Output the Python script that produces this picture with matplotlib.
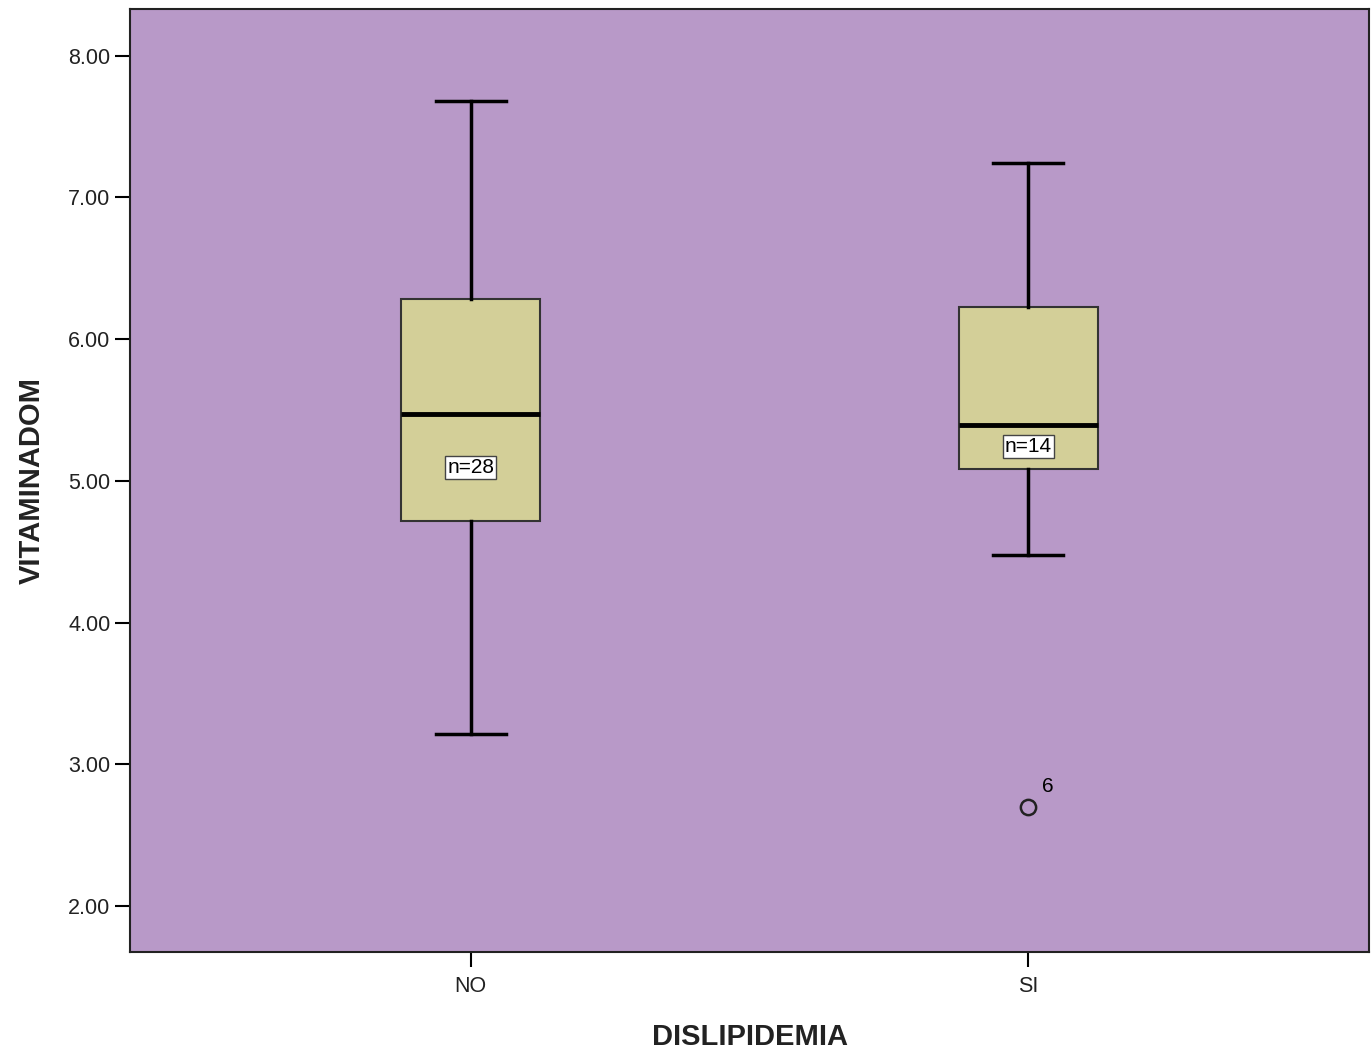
import matplotlib
matplotlib.use('Agg')
import matplotlib.pyplot as plt

# Datos
categorias = ['NO', 'SI']
n_casos = [28, 14]
whisker_bajo = [3.21, 4.48]
q1 = [4.72, 5.085]
mediana = [5.47, 5.395]
q3 = [6.28, 6.23]
whisker_alto = [7.68, 7.245]
atipicos = [[], [2.70]]
etiquetas_atipicos = [[], ['6']]

plt.rcParams['font.family'] = ['Liberation Sans', 'DejaVu Sans']

fig = plt.figure(figsize=(13.71, 10.53), dpi=100)
ax = fig.add_axes([130/1371, 1 - 952/1053, (1369-130)/1371, (952-9)/1053])
ax.set_facecolor('#b899c8')

stats = []
for i in range(len(categorias)):
    stats.append({'label': categorias[i], 'whislo': whisker_bajo[i], 'q1': q1[i],
                  'med': mediana[i], 'q3': q3[i], 'whishi': whisker_alto[i],
                  'fliers': atipicos[i]})

pos = list(range(len(categorias)))
ax.bxp(stats, positions=pos, widths=0.25, patch_artist=True, showfliers=True,
       boxprops=dict(facecolor='#d3cf98', edgecolor='#333333', linewidth=1.5),
       medianprops=dict(color='black', linewidth=3.5),
       whiskerprops=dict(color='black', linewidth=2.5),
       capprops=dict(color='black', linewidth=2.5),
       capwidths=0.125,
       flierprops=dict(marker='o', markerfacecolor='none', markeredgecolor='#222222',
                       markersize=11, markeredgewidth=1.8))

for i in pos:
    ax.text(i, (mediana[i] + q1[i]) / 2, 'n=%d' % n_casos[i], ha='center', va='center',
            fontsize=15, color='black',
            bbox=dict(boxstyle='square,pad=0.1', facecolor='white', edgecolor='#444444', linewidth=1))
    for v, lab in zip(atipicos[i], etiquetas_atipicos[i]):
        ax.annotate(lab, (i, v), xytext=(10, 8), textcoords='offset points',
                    fontsize=15, color='black', ha='left', va='bottom')

ax.set_xlim(-0.611, 1.611)
ax.set_ylim(1.675, 8.33)
ax.set_yticks([2, 3, 4, 5, 6, 7, 8])
ax.set_yticklabels(['%.2f' % v for v in [2, 3, 4, 5, 6, 7, 8]])
ax.set_xticks(pos)
ax.set_xticklabels(categorias)
ax.tick_params(axis='both', labelsize=15.5, length=11, width=1.5, pad=3,
               color='black', labelcolor='#222222')
ax.tick_params(axis='x', pad=6)
for s in ax.spines.values():
    s.set_linewidth(1.5)
    s.set_color('#222222')

ax.set_xlabel('DISLIPIDEMIA', fontsize=21, fontweight='bold', color='#222222', labelpad=19)
ax.set_ylabel('VITAMINADOM', fontsize=21, fontweight='bold', color='#222222', labelpad=16)

fig.savefig('out.png', dpi=100)
